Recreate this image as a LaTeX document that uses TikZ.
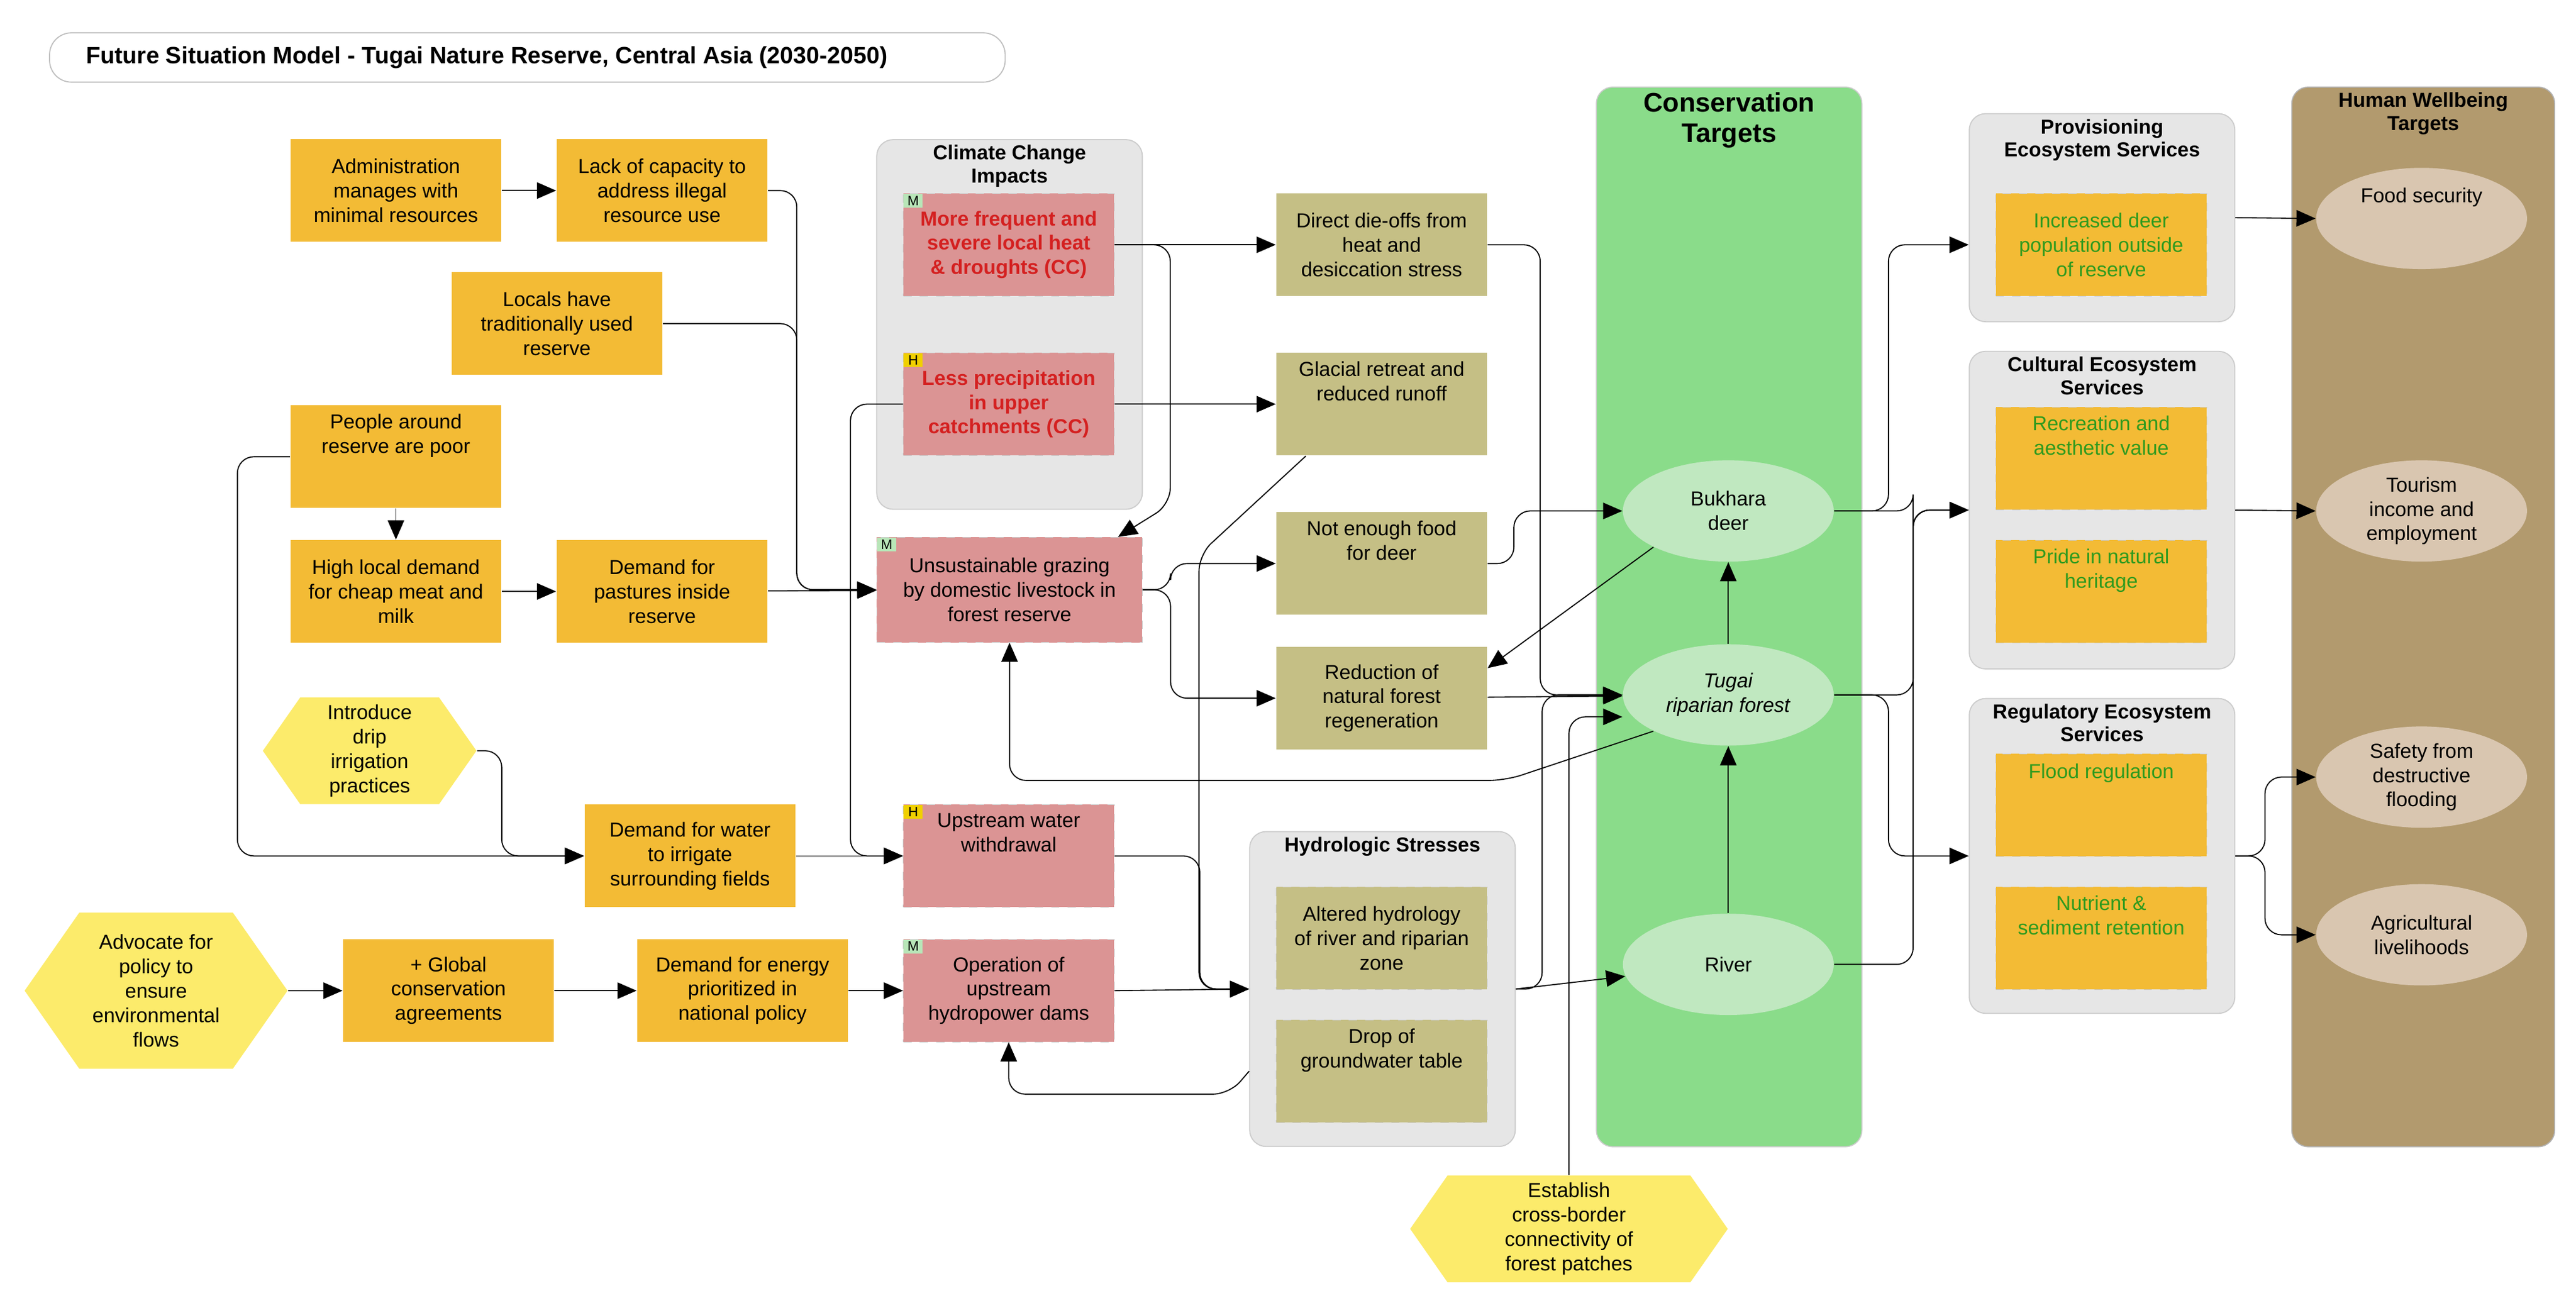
\documentclass[tikz,border=0pt]{standalone}
\usepackage{fontspec}
\setmainfont{Liberation Sans}
\usetikzlibrary{shapes.geometric, shapes.symbols, arrows.meta, calc}

\definecolor{factor}{HTML}{F3BB35}
\definecolor{strat}{HTML}{FCEB6B}
\definecolor{threat}{HTML}{DB9494}
\definecolor{stress}{HTML}{C5BF85}
\definecolor{groupbg}{HTML}{E6E6E6}
\definecolor{consgreen}{HTML}{8ADC8A}
\definecolor{targetfill}{HTML}{C0E8C0}
\definecolor{hwbrown}{HTML}{B29A6E}
\definecolor{hwfill}{HTML}{D9C6B0}
\definecolor{cctext}{HTML}{D42020}
\definecolor{estext}{HTML}{2E9A1E}
\definecolor{tagM}{HTML}{B8E6B8}
\definecolor{tagH}{HTML}{F0D000}

\begin{document}
\begin{tikzpicture}[x=0.6pt, y=-0.6pt, font=\fontsize{7.4}{8.9}\selectfont]
        \tikzstyle{box} = [rectangle, minimum width=77pt, minimum height=37.5pt, align=center, inner sep=1pt]
        \tikzstyle{factor} = [box, fill=factor]
        \tikzstyle{threat} = [box, fill=threat, draw=white!80!black, dashed, very thin]
        \tikzstyle{stress} = [box, fill=stress]
        \tikzstyle{service} = [box, fill=factor, text=estext, draw=white!80!black, dashed, very thin]
        \tikzstyle{strategy} = [signal, signal to=west and east, signal pointer angle=110, fill=strat, align=center, inner sep=1pt]
        \tikzstyle{group} = [rectangle, rounded corners=6pt, fill=groupbg, draw=white!80!black, minimum width=97pt]
        \tikzstyle{grouptitle} = [anchor=north, align=center, font=\fontsize{7.4}{8.4}\selectfont\bfseries, inner sep=2pt]
        \tikzstyle{target} = [ellipse, fill=targetfill, minimum width=77pt, minimum height=37pt, align=center, inner sep=0pt]
        \tikzstyle{wellbeing} = [ellipse, fill=hwfill, minimum width=77pt, minimum height=37pt, align=center, inner sep=0pt]
        \tikzstyle{tag} = [anchor=north west, font=\fontsize{5}{5}\selectfont, inner sep=0.6pt, minimum width=7pt, minimum height=5pt]
        \tikzstyle{arrow} = [thin, -{Triangle[length=7pt, width=6pt]}, rounded corners=6pt]

        \useasboundingbox (0,0) rectangle (1568,796);

        % Title
        \node (title) [rectangle, rounded corners=8pt, draw=white!75!black, minimum width=349pt, minimum height=18pt] at (321,35) {};
        \node [anchor=west, font=\fontsize{8.6}{10}\selectfont\bfseries] at (title.west) {\hspace{10pt}Future Situation Model - Tugai Nature Reserve, Central Asia (2030-2050)};

        % Groups
        \node (climate) [group, minimum height=135pt] at (614.5,197.5) {};
        \node [grouptitle] at (climate.north) {Climate Change\\Impacts};
        \node (hydro) [group, minimum height=115pt] at (841.5,602) {};
        \node [grouptitle] at (hydro.north) {Hydrologic Stresses};
        \node (prov) [group, minimum height=76pt] at (1279.5,132.5) {};
        \node [grouptitle] at (prov.north) {Provisioning\\Ecosystem Services};
        \node (cultural) [group, minimum height=116pt] at (1279.5,310.5) {};
        \node [grouptitle] at (cultural.north) {Cultural Ecosystem\\Services};
        \node (regulatory) [group, minimum height=115pt] at (1279.5,521) {};
        \node [grouptitle] at (regulatory.north) {Regulatory Ecosystem\\Services};
        \node (conservation) [rectangle, rounded corners=6pt, fill=consgreen, draw=white!80!black, minimum width=97pt, minimum height=387pt] at (1052.5,375.5) {};
        \node [grouptitle, font=\fontsize{9.8}{11}\selectfont\bfseries] at (conservation.north) {Conservation\\Targets};
        \node (wellbeinggrp) [rectangle, rounded corners=6pt, fill=hwbrown, draw=white!70!black, minimum width=96pt, minimum height=387pt] at (1475,375.5) {};
        \node [grouptitle] at (wellbeinggrp.north) {Human Wellbeing\\Targets};

        % Contributing factors
        \node (admin) [factor] at (241,116) {Administration\\manages with\\minimal resources};
        \node (lack) [factor] at (403,116) {Lack of capacity to\\address illegal\\resource use};
        \node (locals) [factor] at (339,197) {Locals have\\traditionally used\\reserve};
        \node (poor) [factor] at (241,278) {People around\\reserve are poor\\[8pt]};
        \node (meat) [factor] at (241,360) {High local demand\\for cheap meat and\\milk};
        \node (pastures) [factor] at (403,360) {Demand for\\pastures inside\\reserve};
        \node (irrig) [factor] at (420,521) {Demand for water\\to irrigate\\surrounding fields};
        \node (global) [factor] at (273,603) {+ Global\\conservation\\agreements};
        \node (energy) [factor] at (452,603) {Demand for energy\\prioritized in\\national policy};

        % Strategies
        \node (drip) [strategy, minimum width=78pt, minimum height=39pt] at (225,457) {Introduce\\drip\\irrigation\\practices};
        \node (advocate) [strategy, minimum width=96pt, minimum height=57pt] at (95,603) {Advocate for\\policy to\\ensure\\environmental\\flows};
        \node (establish) [strategy, minimum width=116pt, minimum height=39pt] at (955,748) {Establish\\cross-border\\connectivity of\\forest patches};

        % Threats
        \node (heat) [threat, text=cctext, font=\fontsize{7.4}{8.9}\selectfont\bfseries] at (614,149) {More frequent and\\severe local heat\\\& droughts (CC)};
        \node [tag, fill=tagM] at (heat.north west) {M};
        \node (precip) [threat, text=cctext, font=\fontsize{7.4}{8.9}\selectfont\bfseries] at (614,246) {Less precipitation\\in upper\\catchments (CC)};
        \node [tag, fill=tagH] at (precip.north west) {H};
        \node (grazing) [threat, minimum width=97pt, minimum height=38.4pt] at (614.5,359) {Unsustainable grazing\\by domestic livestock in\\forest reserve};
        \node [tag, fill=tagM] at (grazing.north west) {M};
        \node (withdrawal) [threat] at (614,521) {Upstream water\\withdrawal\\[8pt]};
        \node [tag, fill=tagH] at (withdrawal.north west) {H};
        \node (dams) [threat] at (614,603) {Operation of\\upstream\\hydropower dams};
        \node [tag, fill=tagM] at (dams.north west) {M};

        % Stresses
        \node (dieoff) [stress] at (841,149) {Direct die-offs from\\heat and\\desiccation stress};
        \node (glacial) [stress] at (841,246) {Glacial retreat and\\reduced runoff\\[8pt]};
        \node (food) [stress] at (841,343) {Not enough food\\for deer\\[8pt]};
        \node (regen) [stress] at (841,425) {Reduction of\\natural forest\\regeneration};
        \node (altered) [stress, draw=white!80!black, dashed, very thin] at (841,571) {Altered hydrology\\of river and riparian\\zone};
        \node (drop) [stress, draw=white!80!black, dashed, very thin] at (841,652) {Drop of\\groundwater table\\[8pt]};

        % Targets
        \node (deer) [target] at (1052,311) {Bukhara\\deer};
        \node (tugai) [target] at (1052,423) {\textit{Tugai}\\\textit{riparian forest}};
        \node (river) [target] at (1052,587) {River};

        % Ecosystem services
        \node (deerpop) [service] at (1279,149) {Increased deer\\population outside\\of reserve};
        \node (recreation) [service] at (1279,279) {Recreation and\\aesthetic value\\[8pt]};
        \node (pride) [service] at (1279,360) {Pride in natural\\heritage\\[8pt]};
        \node (flood) [service] at (1279,490) {Flood regulation\\[16pt]};
        \node (nutrient) [service] at (1279,571) {Nutrient \&\\sediment retention\\[8pt]};

        % Human wellbeing
        \node (foodsec) [wellbeing] at (1474,133) {Food security\\[8pt]};
        \node (tourism) [wellbeing] at (1474,311) {Tourism\\income and\\employment};
        \node (safety) [wellbeing] at (1474,473) {Safety from\\destructive\\flooding};
        \node (agri) [wellbeing] at (1474,569) {Agricultural\\livelihoods};

        % Arrows
        \coordinate (jgraze) at (485,359);
        \draw [arrow] (admin) -- (lack);
        \draw [arrow] (lack.east) -| (jgraze) -- (grazing.west);
        \draw [arrow] (locals.east) -| (jgraze) -- (grazing.west);
        \draw [arrow] (pastures) -- (grazing);
        \draw [arrow] (poor) -- (meat);
        \draw [arrow] (meat) -- (pastures);
        \draw [arrow] (poor.west) -- ++(-32,0) |- (irrig.west);
        \draw [arrow] (drip.east) -- ++(15,0) |- (irrig.west);
        \draw [arrow] (irrig) -- (withdrawal);
        \draw [arrow] (precip.west) -- ++(-32,0) |- (withdrawal.west);
        \draw [arrow] (advocate) -- (global);
        \draw [arrow] (global) -- (energy);
        \draw [arrow] (energy) -- (dams);

        % Climate path
        \draw [arrow] (heat) -- (dieoff);
        \draw [arrow] (heat.east) -- ++(34,0) -- ++(0,158) -- ([xshift=-9pt]grazing.north east);
        \draw [arrow] (precip) -- (glacial);
        \draw [arrow] (grazing.east) -- ++(17,0) |- (food.west);
        \draw [arrow] (grazing.east) -- ++(17,0) |- (regen.west);

        % Hydrologic path
        \draw [arrow] ([xshift=11pt]glacial.south west) -- ++(-65,60) |- (hydro.west);
        \draw [arrow] (withdrawal.east) -- ++(52,0) |- (hydro.west);
        \draw [arrow] (dams.east) -- (hydro.west);
        \draw [arrow] (hydro.west |- drop.east) -- ++(-12,14) -| (dams.south);
        \draw [arrow] (hydro.east) -- (river);
        \draw [arrow] (hydro.east) -- ++(16,0) |- (tugai.west);

        % Stresses to targets
        \draw [arrow] (dieoff.east) -- ++(32,0) |- (tugai.west);
        \draw [arrow] (regen) -- (tugai);
        \draw [arrow] (food.east) -- ++(16,0) |- (deer.west);
        \draw [arrow] (deer.south west) -- ([yshift=11pt]regen.east);
        \draw [arrow] (tugai.south west) -- ++(-90,30) -| (grazing.south);
        \draw [arrow] (establish.north) |- ([yshift=-8pt]tugai.west);
        \draw [arrow] (river) -- (tugai);
        \draw [arrow] (tugai) -- (deer);

        % Targets to services
        \draw [arrow] (deer.east) -- ++(33,0) |- (prov.west |- deerpop.west);
        \draw [arrow] (deer.east) -- ++(48,0) |- (cultural.west);
        \draw [arrow] (tugai.east) -- ++(48,0) |- (cultural.west);
        \draw [arrow] (tugai.east) -- ++(33,0) |- (regulatory.west);
        \draw [arrow] (river.east) -- ++(48,0) |- (cultural.west);

        % Services to wellbeing
        \draw [arrow] (prov.east) -- (foodsec.west);
        \draw [arrow] (cultural.east) -- (tourism.west);
        \draw [arrow] (regulatory.east) -- ++(18,0) |- (safety.west);
        \draw [arrow] (regulatory.east) -- ++(18,0) |- (agri.west);
    \end{tikzpicture}
\end{document}
